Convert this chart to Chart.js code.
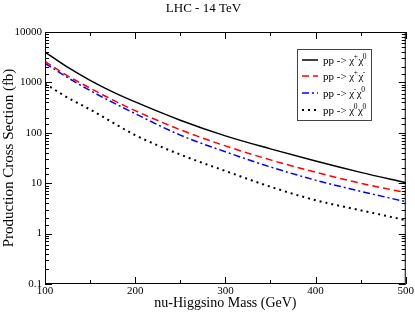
<!DOCTYPE html>
<html>
<head>
<meta charset="utf-8">
<script src="https://cdn.jsdelivr.net/npm/chart.js@4.4.1/dist/chart.umd.min.js"></script>
<style>
  html, body { margin: 0; padding: 0; background: #fff; }
  #wrap { width: 415px; height: 312px; }
</style>
</head>
<body>
<div id="wrap"><canvas id="myChart" width="415" height="312"></canvas></div>
<script>
// data
var mass = [100, 125, 150, 175, 200, 250, 300, 350, 400, 450, 500];
var chargedNeutral = [4000, 2000, 1100, 650, 410, 178, 87, 48, 27.5, 16.4, 10.2];
var chargedPair = [2600, 1350, 770, 450, 275, 115, 55, 29, 16.5, 10, 6.5];
var minusNeutral = [2400, 1250, 690, 400, 240, 90, 42, 21, 11.5, 6.9, 4.3];
var neutralPair = [950, 500, 290, 160, 90, 37, 17.5, 8.5, 4.6, 2.9, 1.85];
var seriesNames = ['pp -> χ⁺χ⁰', 'pp -> χ⁺χ⁻', 'pp -> χ⁻χ⁰', 'pp -> χ⁰χ⁰'];
var yTickLabels = [0.1, 1, 10, 100, 1000, 10000];
var xTickLabels = [100, 200, 300, 400, 500];

var serif = "'Liberation Serif', 'Times New Roman', serif";

function pts(vals) {
    return mass.map(function(m, i) { return {x: m, y: vals[i]}; });
}

// inward ticks, box frame and the boxed legend like the original plot
var framePlugin = {
    id: 'frame',
    afterDraw: function(chart) {
        var ctx = chart.ctx, a = chart.chartArea;
        var xs = chart.scales.x, ys = chart.scales.y;
        ctx.save();
        ctx.strokeStyle = '#000';
        ctx.lineWidth = 1;
        ctx.setLineDash([]);
        ctx.strokeRect(a.left + 0.5, a.top + 0.5, a.right - a.left - 1, a.bottom - a.top - 1);
        ctx.beginPath();
        xs.ticks.forEach(function(t) {
            var px = Math.round(xs.getPixelForValue(t.value)) + 0.5;
            var len = (t.value % 100 === 0) ? 7 : 4;
            ctx.moveTo(px, a.bottom); ctx.lineTo(px, a.bottom - len);
            ctx.moveTo(px, a.top); ctx.lineTo(px, a.top + len);
        });
        ys.ticks.forEach(function(t) {
            var py = Math.round(ys.getPixelForValue(t.value)) + 0.5;
            var major = yTickLabels.indexOf(t.value) >= 0;
            var len = major ? 7 : 4;
            ctx.moveTo(a.left, py); ctx.lineTo(a.left + len, py);
            ctx.moveTo(a.right, py); ctx.lineTo(a.right - len, py);
        });
        ctx.stroke();

        // legend
        var bx = 297, by = 49, bw = 74, bh = 71;
        ctx.fillStyle = '#fff';
        ctx.fillRect(bx, by, bw, bh);
        ctx.strokeStyle = '#444';
        ctx.strokeRect(bx + 0.5, by + 0.5, bw, bh);
        var sup = {'⁺': '+', '⁻': '-', '⁰': '0'};
        chart.data.datasets.forEach(function(ds, i) {
            var cy = [60, 76, 93, 110][i];
            ctx.strokeStyle = ds.borderColor;
            ctx.lineWidth = ds.borderWidth;
            ctx.setLineDash(ds.borderDash || []);
            ctx.beginPath();
            ctx.moveTo(302, cy); ctx.lineTo(318, cy);
            ctx.stroke();
            ctx.setLineDash([]);
            ctx.fillStyle = '#000';
            ctx.textBaseline = 'alphabetic';
            var x = 323;
            for (var c of ds.label) {
                if (sup[c]) {
                    ctx.font = '7.5px ' + serif;
                    ctx.fillText(sup[c], x - 0.5, cy - 1.5);
                    x += ctx.measureText(sup[c]).width;
                } else {
                    ctx.font = '11px ' + serif;
                    ctx.fillText(c, x, cy + 4);
                    x += ctx.measureText(c).width;
                }
            }
        });
        ctx.restore();
    }
};

var ctx = document.getElementById('myChart');
var chart = new Chart(ctx, {
    type: 'line',
    data: {
        datasets: [{
            label: seriesNames[0],
            data: pts(chargedNeutral),
            borderColor: '#000000',
            borderWidth: 1.5
        }, {
            label: seriesNames[1],
            data: pts(chargedPair),
            borderColor: '#ff0000',
            borderWidth: 1.5,
            borderDash: [7, 4]
        }, {
            label: seriesNames[2],
            data: pts(minusNeutral),
            borderColor: '#0000ff',
            borderWidth: 1.5,
            borderDash: [7, 3, 2, 3]
        }, {
            label: seriesNames[3],
            data: pts(neutralPair),
            borderColor: '#000000',
            borderWidth: 2,
            borderDash: [2, 4]
        }]
    },
    options: {
        responsive: false,
        animation: false,
        layout: { padding: { left: 0, right: 8, top: 0, bottom: 0 } },
        elements: {
            point: { radius: 0 },
            line: { cubicInterpolationMode: 'monotone', fill: false }
        },
        plugins: {
            legend: { display: false },
            tooltip: { enabled: false },
            title: {
                display: true,
                text: 'LHC - 14 TeV',
                color: '#000',
                font: { family: serif, size: 13, weight: 'normal' },
                padding: { top: 1, bottom: 15.4 }
            }
        },
        scales: {
            x: {
                type: 'linear',
                min: 100,
                max: 500,
                grid: { display: false, drawTicks: false },
                border: { display: false },
                ticks: {
                    stepSize: 50,
                    maxRotation: 0,
                    autoSkip: false,
                    padding: 1,
                    color: '#000',
                    font: { family: serif, size: 11 },
                    callback: function(v) { return xTickLabels.indexOf(v) >= 0 ? String(v) : ''; }
                },
                title: {
                    display: true,
                    text: 'nu-Higgsino Mass (GeV)',
                    color: '#000',
                    font: { family: serif, size: 14 },
                    padding: { top: 0, bottom: 0 }
                },
                afterFit: function(s) { s.height = 28; }
            },
            y: {
                type: 'logarithmic',
                min: 0.1,
                max: 10000,
                grid: { display: false, drawTicks: false },
                border: { display: false },
                ticks: {
                    autoSkip: false,
                    padding: 3,
                    color: '#000',
                    font: { family: serif, size: 11 },
                    callback: function(v) { return yTickLabels.indexOf(v) >= 0 ? String(v) : ''; }
                },
                title: {
                    display: true,
                    text: 'Production Cross Section (fb)',
                    color: '#000',
                    font: { family: serif, size: 15 },
                    padding: { top: 0, bottom: 2 }
                },
                afterFit: function(s) { s.width = 45; }
            }
        }
    },
    plugins: [framePlugin]
});
</script>
</body>
</html>
